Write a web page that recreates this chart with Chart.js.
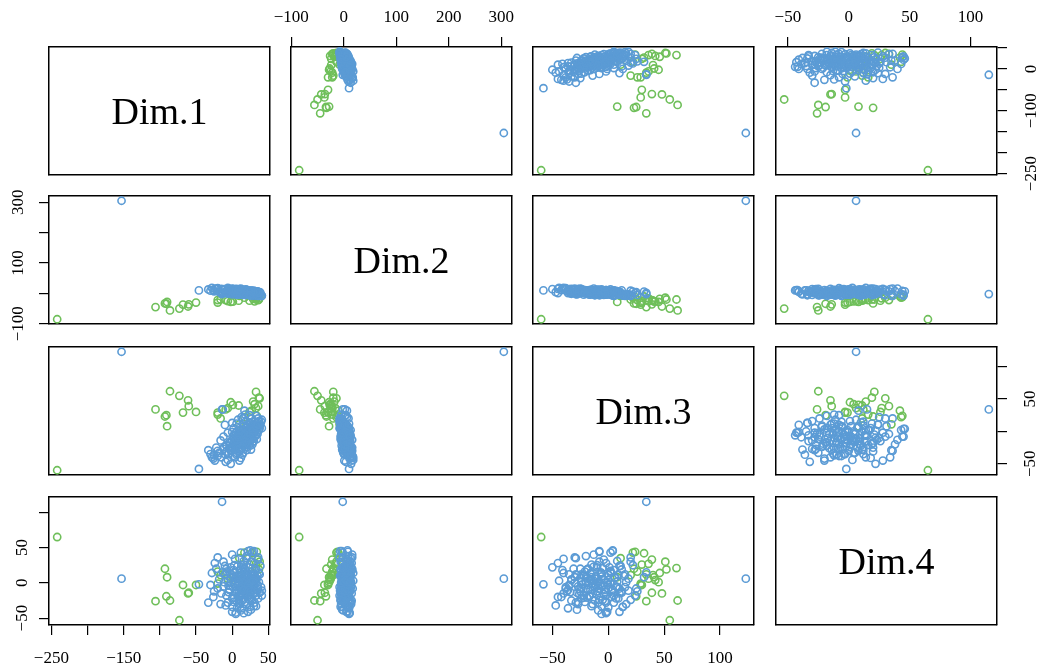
<!DOCTYPE html>
<html>
<head>
<meta charset="utf-8">
<script src="https://cdn.jsdelivr.net/npm/chart.js@4.4.0/dist/chart.umd.min.js"></script>
<style>
    body { margin: 0; background: #fff; }
    #wrap { position: relative; width: 1039px; height: 671px; overflow: hidden; }
    canvas { position: absolute; }
    .diag-label {
        position: absolute;
        text-align: center;
        font-family: "Liberation Serif", "Times New Roman", serif;
        font-size: 38px;
        color: #000;
        white-space: nowrap;
    }
</style>
</head>
<body>
<div id="wrap"></div>
<script>
// ==========================================
// Data
// ==========================================
const dimNames = ['Dim.1', 'Dim.2', 'Dim.3', 'Dim.4'];

const blueDim1 = [
    -46, -2, -153, -14, -13, -10, -33, -26, 0, 38,
    41, 17, 5, 0, 10, 30, 28, 20, 12, -5,
    15, 18, -20, -8, 22, 25, 2, 12, 16, 25,
    -20, -18, -15, -12, -10, -8, -6, -4, -2, 0,
    1, 3, 4, 5, 6, 7, 8, 9, 10, 11,
    12, 13, 14, 15, 16, 17, 18, 19, 20, 21,
    22, 23, 24, 25, 26, 27, 28, 29, 30, 31,
    32, 33, 34, 35, 36, 37, 39, 40, 35, 30,
    -16, -22, -25, -28, -30, -24, -12, -6, 2, 6,
    8, 13, 19, 24, 27, 33, 36, 14, 10, 4,
    -9, 0, 12, 20, 26, 5, 22, 15, 18, 31,
    37, 41, 28, 9, 3, -3, 7, 16, 21, 33,
    14, 19, 23, 11, 7, 26, 29, 16, 21, 4,
    -1, -5, 32, 35, 12, 17, 24, 9, 2, 27,
    38, 31, 13, 6, -11, 20, 15, 10, 25, 34,
    15, 18, 12, 22, 8, 27, 20, 10, 25, 14,
    5, 30, 17, 23, 11, 19, 28, 3, 33, -4,
    13, 21, 36, 7, 26, 16, -8, 29, 9, 24
];
const blueDim2 = [
    10, 14, 305, -2, 2, 4, 13, 11, 7, -4,
    -8, 6, 11, -3, 14, -7, 8, -2, 16, 1,
    9, -5, 16, 2, -4, 7, 14, -1, 11, -6,
    17, 4, 15, 2, 13, 1, 18, 0, 12, 3,
    14, -1, 10, 0, 15, -3, 11, -2, 13, -4,
    10, 0, 9, -5, 12, -2, 11, -3, 8, 10,
    -4, 9, -3, 5, -5, 7, -6, 4, -3, 5,
    6, -6, 5, -7, 6, -5, 3, -8, 7, 9,
    3, 16, 7, 18, 9, 15, 12, 0, 10, -4,
    -2, 6, -5, 4, -6, 2, -8, 10, 1, 14,
    4, 16, -2, 8, -3, 10, 5, -1, 9, 4,
    2, -7, 6, -1, 12, 2, 10, 7, -3, 5,
    9, -2, 7, 0, 12, -4, 6, 9, -2, 12,
    3, 14, -5, 4, 9, -2, 7, 1, 13, -3,
    3, -5, 10, 1, 14, 8, -2, 9, -4, 4,
    5, 1, 8, -2, 10, 4, 12, -3, 7, 0,
    11, -4, 9, -5, 2, 13, -3, 3, 6, 12,
    -1, 8, 2, 0, 10, -4, 3, 5, 12, -6
];
const blueDim3 = [
    -58, -50, 123, 34, 34, 10, -29, -42, -1, 9,
    5, 32, -2, 13, -27, 4, -8, -29, -41, -34,
    20, 26, -30, -31, -8, 4, -27, -9, -2, 13,
    -38, -33, -40, -27, -35, -22, -44, -18, -30, -24,
    -38, -15, -28, -20, -33, -12, -22, -17, -30, -8,
    -19, -25, -11, -4, -15, -9, -21, -6, 0, -13,
    3, -10, -3, 6, -7, 2, -12, 8, -2, 10,
    0, 12, 4, 14, 7, 16, 11, 15, -4, -15,
    -14, -25, -37, -40, -35, -45, -8, -2, 5, 12,
    18, 22, 16, 25, 20, 24, 20, -36, -45, -40,
    -47, -13, 2, -20, -28, -6, 10, -33, -24, -9,
    2, 18, -20, -5, -10, -16, 0, 8, -17, -6,
    -14, -11, -5, -20, -16, -1, 3, -7, -14, -23,
    -29, -35, 6, 0, -2, -18, -15, -10, -6, 9,
    5, 15, -28, -36, -24, 7, 1, 5, -22, -12,
    -12, -8, -15, -3, -18, 0, -10, -6, -10, -20,
    -25, 2, -4, -12, -26, 2, -5, -19, 8, -26,
    -3, -24, 10, -13, 12, -16, -21, -16, -9, -8
];
const blueDim4 = [
    -2, 22, 6, 115, 15, 24, -28, -20, -41, 12,
    -18, 8, -42, -34, -30, 45, 44, 35, 18, -13,
    -24, -12, 36, 20, 45, 46, -27, -39, -43, -34,
    -8, 5, -15, -5, 12, -18, 3, -10, 8, -22,
    -6, 15, -14, 2, -25, -3, 10, -19, 0, -9,
    19, -12, 6, -16, 26, -4, -27, 13, -8, 3,
    -20, 22, -13, 7, -2, 16, -25, -6, 28, -15,
    4, 19, -10, 10, -22, 1, 24, -6, 33, -33,
    -30, 20, -12, 14, -3, 28, 30, -28, 18, -14,
    6, 25, -30, -8, 30, -18, 36, -36, -20, 34,
    -32, 40, 43, 38, -38, -44, -41, 4, -7, -28,
    14, -11, 9, -24, 25, 13, -35, 31, -18, -33,
    -1, 9, -4, -8, 5, 0, -11, 15, -15, -2,
    12, -4, 8, -3, -18, 20, 3, -12, 9, -22,
    -14, 12, 11, -10, 1, -5, 22, -28, -21, 6,
    -6, 2, 8, -10, -3, 11, -12, 14, -17, 1,
    7, -1, 5, -7, -16, 17, 21, -21, 2, -9,
    -26, 12, -8, 23, -12, -10, 16, 4, 1, -24
];

const greenDim1 = [-106, -93, -90, -91, -86, -73, -68, -61, -60, -50, -242,
    27, 38, 33, 37, 10, 33, 31, -2, 9, -20, -20, 34, 1, -9, 17, -16, 24, 29, 36, -6];
const greenDim2 = [-45, -33, -28, -34, -56, -50, -37, -43, -36, -30, -85,
    -10, -14, -20, -20, -8, -16, -26, -28, -24, -22, -30, -12, -27, -22, -14, -20, -24, -18, -22, -25];
const greenDim3 = [34, 23, 8, 25, 62, 55, 29, 48, 39, 30, -60,
    32, 51, 61, 52, 11, 36, 42, 45, 40, 26, 29, 24, 41, 34, 22, 20, 30, 46, 39, 36];
const greenDim4 = [-26, 20, 8, -19, -25, -53, -3, -15, -14, -3, 65,
    42, 30, 21, 19, 35, 27, 4, 1, 11, 16, -1, 44, 8, 12, 43, 11, 26, 14, 33, 6];

// tick positions per dimension, and which of them carry a label
const dim1Ticks = [-250, -200, -150, -100, -50, 0, 50];
const dim2Ticks = [-100, 0, 100, 200, 300];
const dim3Ticks = [-50, 0, 50, 100];
const dim4Ticks = [-50, 0, 50, 100];
const hLabels = [[-250, -150, -50, 0, 50], [-100, 0, 100, 200, 300], [-50, 0, 50, 100], [-50, 0, 50, 100]];
const vLabels = [[0, -100, -250], [300, 100, -100], [50, -50], [50, 0, -50]];

// ==========================================
// Layout & style
// ==========================================
const BOX_LEFT = [49, 291, 533, 776];
const BOX_TOP = [47, 196, 347, 497];
const BOX_W = 221, BOX_H = 128;
const M = 60;      // canvas margin around each panel box (= axis thickness)
const FONT = '"Liberation Serif", "Times New Roman", serif';
const BLUE = '#5b9bd5';
const GREEN = '#6fbf5a';
// label gap per side (right side differs per row: widest label differs)
const PAD_TOP = 19, PAD_BOTTOM = 24, PAD_LEFT = 3;
const PAD_RIGHT = [7, 0, 10, 0];

const blueDims = [blueDim1, blueDim2, blueDim3, blueDim4];
const greenDims = [greenDim1, greenDim2, greenDim3, greenDim4];
const dimTicks = [dim1Ticks, dim2Ticks, dim3Ticks, dim4Ticks];

// R pairs(): data range stretched by 4% on each side
function dimRange(d) {
    const all = blueDims[d].concat(greenDims[d]);
    const lo = Math.min(...all), hi = Math.max(...all);
    const pad = (hi - lo) * 0.04;
    return [lo - pad, hi + pad];
}
const ranges = [0, 1, 2, 3].map(dimRange);

function pairs(dims, xd, yd) {
    return dims[xd].map((v, i) => ({ x: v, y: dims[yd][i] }));
}

function fmt(v) {
    return v < 0 ? '\u2212' + Math.abs(v) : String(v);
}

// every axis gets the full margin so its labels are not clipped
function axis(pos, d, ticks, labels, pad) {
    const vertical = pos === 'left' || pos === 'right';
    const show = !!ticks;
    return {
        type: 'linear',
        axis: vertical ? 'y' : 'x',
        position: pos,
        min: ranges[d][0],
        max: ranges[d][1],
        afterBuildTicks: show ? (s) => { s.ticks = ticks.map(v => ({ value: v })); } : undefined,
        afterFit: (s) => { if (vertical) s.width = M; else s.height = M; },
        grid: { drawOnChartArea: false, drawTicks: show, tickLength: 10, color: '#000', tickColor: '#000', lineWidth: 1.2 },
        border: { display: true, color: '#000', width: 1.5 },
        ticks: {
            display: show,
            autoSkip: false,
            padding: pad || 0,
            color: '#000',
            font: { family: FONT, size: 17 },
            minRotation: vertical ? 90 : 0,
            maxRotation: vertical ? 90 : 0,
            crossAlign: 'center',
            callback: (v) => (labels && labels.includes(v)) ? fmt(v) : ''
        }
    };
}

// ==========================================
// Build the 4x4 grid
// ==========================================
const wrap = document.getElementById('wrap');

function panel(r, c) {
    const cv = document.createElement('canvas');
    cv.width = BOX_W + 2 * M;
    cv.height = BOX_H + 2 * M;
    cv.style.left = (BOX_LEFT[c] - M) + 'px';
    cv.style.top = (BOX_TOP[r] - M) + 'px';
    wrap.appendChild(cv);

    const top = (r === 0 && (c === 1 || c === 3));
    const bottom = (r === 3 && (c === 0 || c === 2));
    const left = (c === 0 && (r === 1 || r === 3));
    const right = (c === 3 && (r === 0 || r === 2));

    const datasets = r === c ? [] : [
        {
            label: 'blue', data: pairs(blueDims, c, r),
            borderColor: BLUE, backgroundColor: 'rgba(0,0,0,0)',
            pointBackgroundColor: 'rgba(0,0,0,0)', pointBorderColor: BLUE,
            pointRadius: 3.6, pointBorderWidth: 1.6
        },
        {
            label: 'green', data: pairs(greenDims, c, r),
            borderColor: GREEN, backgroundColor: 'rgba(0,0,0,0)',
            pointBackgroundColor: 'rgba(0,0,0,0)', pointBorderColor: GREEN,
            pointRadius: 3.6, pointBorderWidth: 1.6
        }
    ];

    new Chart(cv, {
        type: 'scatter',
        data: { datasets },
        options: {
            responsive: false,
            animation: false,
            events: [],
            layout: { padding: 0 },
            plugins: { legend: { display: false }, tooltip: { enabled: false } },
            scales: {
                x: axis('bottom', c, bottom ? dimTicks[c] : null, hLabels[c], PAD_BOTTOM),
                x2: axis('top', c, top ? dimTicks[c] : null, hLabels[c], PAD_TOP),
                y: axis('left', r, left ? dimTicks[r] : null, vLabels[r], PAD_LEFT),
                y2: axis('right', r, right ? dimTicks[r] : null, vLabels[r], PAD_RIGHT[r])
            }
        }
    });

    if (r === c) {
        const lab = document.createElement('div');
        lab.className = 'diag-label';
        lab.textContent = dimNames[r];
        lab.style.left = BOX_LEFT[c] + 'px';
        lab.style.top = BOX_TOP[r] + 'px';
        lab.style.width = BOX_W + 'px';
        lab.style.height = BOX_H + 'px';
        lab.style.lineHeight = BOX_H + 'px';
        wrap.appendChild(lab);
    }
}

for (let r = 0; r < 4; r++) {
    for (let c = 0; c < 4; c++) panel(r, c);
}
</script>
</body>
</html>
